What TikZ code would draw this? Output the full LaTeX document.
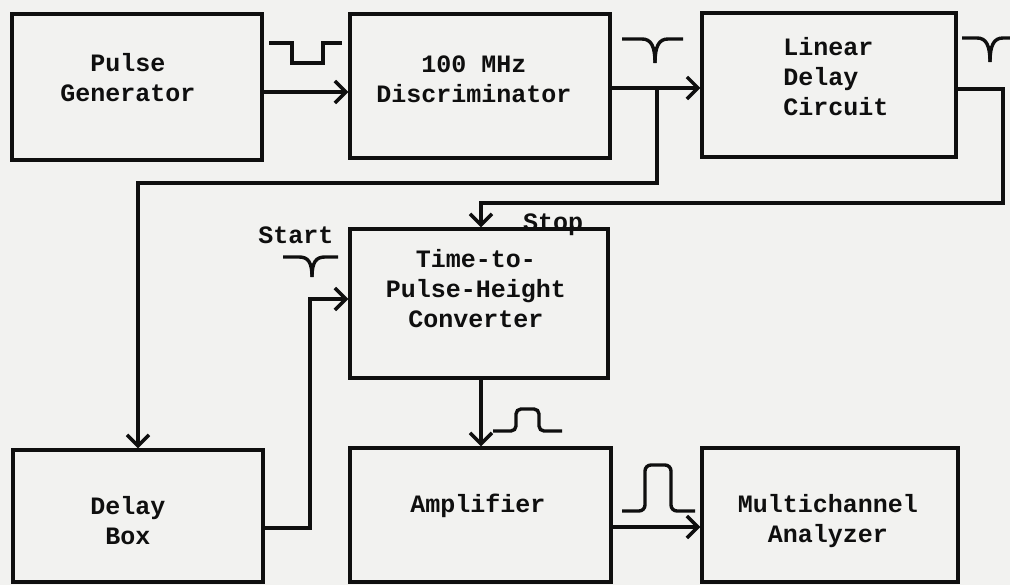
\documentclass[tikz,border=0pt]{standalone}
\usepackage{fontspec}
\setmainfont{Liberation Mono}
\usetikzlibrary{arrows.meta}
\definecolor{ink}{RGB}{15,15,15}
\definecolor{paper}{RGB}{242,242,240}
\tikzset{
  blk/.style={draw=ink, line width=3.4pt, inner sep=0pt},
  txt/.style={font=\bfseries\fontsize{25}{30}\selectfont, text=ink, inner sep=0pt, align=center},
  wire/.style={draw=ink, line width=3.2pt, line join=miter},
  arr/.style={wire, -{Straight Barb[length=11pt,width=22pt,line width=3.4pt]}},
  sig/.style={draw=ink, line width=3.4pt},
  lbl/.style={font=\bfseries\fontsize{25}{30}\selectfont, text=ink, inner sep=0pt}
}
\begin{document}
\begin{tikzpicture}[x=1pt,y=-1pt]
\fill[paper] (0,0) rectangle (1010,585);
\useasboundingbox (0,0) rectangle (1010,585);

% blocks
\node[blk, minimum width=250pt, minimum height=146pt] (pg) at (137,87) {};
\node[blk, minimum width=260pt, minimum height=144pt] (disc) at (480,86) {};
\node[blk, minimum width=254pt, minimum height=144pt] (ldc) at (829,85) {};
\node[blk, minimum width=258pt, minimum height=149pt] (tphc) at (479,303.5) {};
\node[blk, minimum width=250pt, minimum height=132pt] (dbox) at (138,516) {};
\node[blk, minimum width=261pt, minimum height=134pt] (amp) at (480.5,515) {};
\node[blk, minimum width=256pt, minimum height=134pt] (mca) at (830,515) {};

% block texts
\node[txt] (pgT) at (128,78) {Pulse\\Generator};
\node[txt] (discT) at (474,79) {100 MHz\\Discriminator};
\node[txt, align=left] (ldcT) at (836,77) {Linear\\Delay\\Circuit};
\node[txt] (tphcT) at (476,289) {Time-to-\\Pulse-Height\\Converter};
\node[txt] (dboxT) at (128,521) {Delay\\Box};
\node[txt] (ampT) at (478,506) {Amplifier};
\node[txt] (mcaT) at (828,521) {Multichannel\\Analyzer};

% labels
\node[lbl, anchor=base] (stop) at (553,231) {Stop};
\node[lbl, anchor=base] (start) at (296,244) {Start};

% junction / bend points
\coordinate (j1) at (657,88);
\coordinate (b1) at (657,183);
\coordinate (b2) at (138,183);
\coordinate (c1) at (1003,89);
\coordinate (c2) at (1003,203);
\coordinate (c3) at (481,203);
\coordinate (d1) at (310,528);
\coordinate (d2) at (310,299);

% connectors
\draw[arr] (pg.east |- 0,92) -- (disc.west |- 0,92);
\draw[arr] (disc.east |- 0,88) -- (ldc.west |- 0,88);
\draw[arr] (j1) -- (b1) -- (b2) -- (dbox.north);
\draw[arr] (ldc.east |- c1) -- (c1) -- (c2) -- (c3) -- (tphc.north -| c3);
\draw[arr] (dbox.east |- d1) -- (d1) -- (d2) -- (tphc.west |- d2);
\draw[arr] (tphc.south -| c3) -- (amp.north -| c3);
\draw[arr] (amp.east |- 0,527) -- (mca.west |- 0,527);

% signal shapes
\draw[sig] (269,43) -- (292,43) -- (292,63) -- (323,63) -- (323,43) -- (342,43);

\draw[sig] (622,39) -- (642,39) .. controls (651,39) and (655,46) .. (655,63);
\draw[sig] (683,39) -- (668,39) .. controls (659,39) and (655,46) .. (655,63);

\draw[sig] (962,38) -- (977,38) .. controls (986,38) and (990,45) .. (990,62);
\draw[sig] (1012,38) -- (1003,38) .. controls (994,38) and (990,45) .. (990,62);

\draw[sig] (283,257) -- (299,257) .. controls (308,257) and (312,262) .. (312,277);
\draw[sig] (338,257) -- (325,257) .. controls (316,257) and (312,262) .. (312,277);

\draw[sig, rounded corners=5pt] (493,431) -- (516,431) -- (516,409) -- (539,409) -- (539,431) -- (562,431);
\draw[sig, rounded corners=6pt] (622,511) -- (645,511) -- (645,465) -- (671,465) -- (671,511) -- (695,511);
\end{tikzpicture}
\end{document}
